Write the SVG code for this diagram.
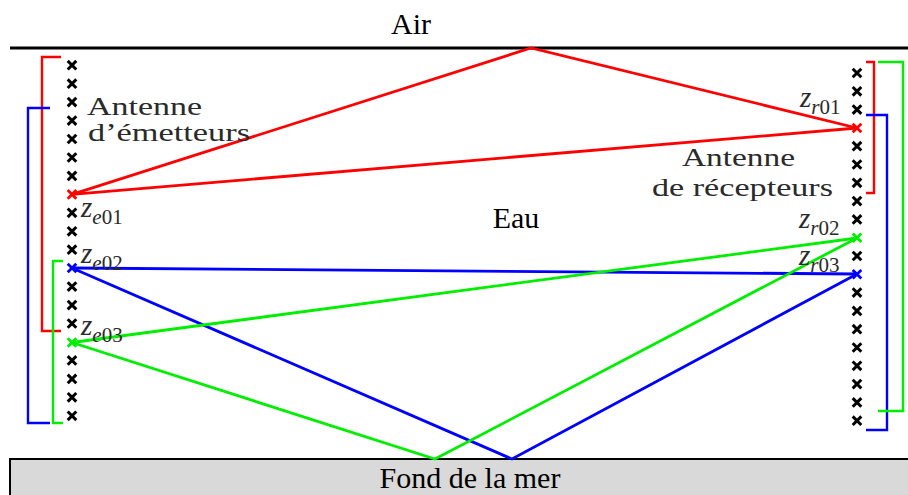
<svg xmlns="http://www.w3.org/2000/svg" xmlns:xlink="http://www.w3.org/1999/xlink" width="908" height="495" viewBox="0 0 908 495">
<style>
.t{font-family:"Liberation Serif","Times New Roman",serif;font-size:30px;fill:#000}
.cm{font-family:"Liberation Serif","Times New Roman",serif;font-size:26px;fill:#2a2a2a}
.z{font-family:"Liberation Serif","Times New Roman",serif;font-size:29px;fill:#2a2a2a;font-style:italic}
.sub{font-size:21px}
.up{font-style:normal}
.ln{fill:none;stroke-width:2.8;stroke-linejoin:miter}
.br{fill:none;stroke-width:2.4}
.red{stroke:#ff0000}
.blue{stroke:#0000ff}
.green{stroke:#00ee00}
.x{stroke:#000;stroke-width:3;fill:none}
</style>
<defs>
<path id="cx" d="M-4.3,-4.3L4.3,4.3M-4.3,4.3L4.3,-4.3"/>
</defs>
<rect width="908" height="495" fill="#fff"/>
<g id="surface">
<line x1="10" y1="48" x2="908" y2="48" stroke="#000" stroke-width="3"/>
<text class="t" x="411" y="34" text-anchor="middle">Air</text>
</g>
<g id="seabed">
<rect x="10" y="459" width="902" height="40" fill="#d9d9d9" stroke="#000" stroke-width="2"/>
<text class="t" x="470" y="488" text-anchor="middle">Fond de la mer</text>
</g>
<text class="t" x="516" y="228" text-anchor="middle">Eau</text>
<g id="connectors">
<path class="ln red" d="M72,194.4L531,48L857,128"/>
<path class="ln red" d="M72,194.4L857,128"/>
<path class="ln blue" d="M72,268L857,274"/>
<path class="ln blue" d="M72,268L512,459L857,274"/>
<path class="ln green" d="M72,342.5L857,238"/>
<path class="ln green" d="M72,342.5L435,459L857,238"/>
</g>
<g id="emitter-array">
<g class="x">
<use xlink:href="#cx" x="72" y="65.2"/><use xlink:href="#cx" x="72" y="83.7"/><use xlink:href="#cx" x="72" y="102.1"/><use xlink:href="#cx" x="72" y="120.6"/><use xlink:href="#cx" x="72" y="139"/><use xlink:href="#cx" x="72" y="157.5"/><use xlink:href="#cx" x="72" y="175.9"/>
<use xlink:href="#cx" x="72" y="212.8"/><use xlink:href="#cx" x="72" y="231.3"/><use xlink:href="#cx" x="72" y="249.7"/>
<use xlink:href="#cx" x="72" y="286.6"/><use xlink:href="#cx" x="72" y="305.1"/><use xlink:href="#cx" x="72" y="323.5"/>
<use xlink:href="#cx" x="72" y="360.4"/><use xlink:href="#cx" x="72" y="378.9"/><use xlink:href="#cx" x="72" y="397.3"/><use xlink:href="#cx" x="72" y="415.8"/>
</g>
<use xlink:href="#cx" x="72" y="194.4" class="ln red"/>
<use xlink:href="#cx" x="72" y="268" class="ln blue"/>
<use xlink:href="#cx" x="72" y="342.5" class="ln green"/>
<path class="br red" d="M61,57H42V331H61"/>
<path class="br blue" d="M50,108H28V423H50"/>
<path class="br green" d="M63,261H53V423H63"/>
<text class="cm"><tspan x="87" y="115" textLength="115" lengthAdjust="spacingAndGlyphs">Antenne</tspan><tspan x="88" y="141" textLength="162" lengthAdjust="spacingAndGlyphs">d’émetteurs</tspan></text>
<text class="z" x="81" y="217">z<tspan class="sub" dy="7">e<tspan class="up">01</tspan></tspan></text>
<text class="z" x="81" y="263">z<tspan class="sub" dy="7">e<tspan class="up">02</tspan></tspan></text>
<text class="z" x="81" y="335">z<tspan class="sub" dy="7">e<tspan class="up">03</tspan></tspan></text>
</g>
<g id="receiver-array">
<g class="x">
<use xlink:href="#cx" x="857" y="73"/><use xlink:href="#cx" x="857" y="91.3"/><use xlink:href="#cx" x="857" y="109.6"/>
<use xlink:href="#cx" x="857" y="146.2"/><use xlink:href="#cx" x="857" y="164.5"/><use xlink:href="#cx" x="857" y="182.8"/><use xlink:href="#cx" x="857" y="201.1"/><use xlink:href="#cx" x="857" y="219.4"/>
<use xlink:href="#cx" x="857" y="256"/>
<use xlink:href="#cx" x="857" y="292.6"/><use xlink:href="#cx" x="857" y="310.9"/><use xlink:href="#cx" x="857" y="329.2"/><use xlink:href="#cx" x="857" y="347.5"/><use xlink:href="#cx" x="857" y="365.8"/><use xlink:href="#cx" x="857" y="384.1"/><use xlink:href="#cx" x="857" y="402.4"/><use xlink:href="#cx" x="857" y="420.7"/>
</g>
<use xlink:href="#cx" x="857" y="128" class="ln red"/>
<use xlink:href="#cx" x="857" y="237.7" class="ln green"/>
<use xlink:href="#cx" x="857" y="274.3" class="ln blue"/>
<path class="br red" d="M866,62H874V193H866"/>
<path class="br blue" d="M866,115H887V430H866"/>
<path class="br green" d="M878,62H903V411H878"/>
<text class="cm"><tspan x="682" y="166" textLength="113" lengthAdjust="spacingAndGlyphs">Antenne</tspan><tspan x="652" y="196" textLength="181" lengthAdjust="spacingAndGlyphs">de récepteurs</tspan></text>
<text class="z" x="800" y="107">z<tspan class="sub" dy="7">r<tspan class="up">01</tspan></tspan></text>
<text class="z" x="799" y="228">z<tspan class="sub" dy="7">r<tspan class="up">02</tspan></tspan></text>
<text class="z" x="799" y="265">z<tspan class="sub" dy="7">r<tspan class="up">03</tspan></tspan></text>
</g>
</svg>
